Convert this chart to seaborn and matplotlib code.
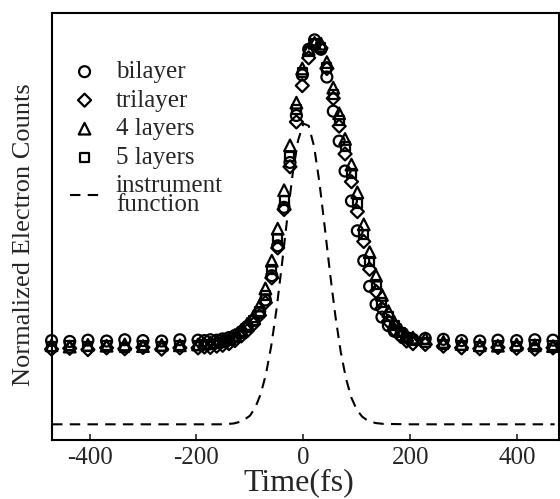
import numpy as np
import pandas as pd
import matplotlib
matplotlib.use("Agg")
import matplotlib.pyplot as plt
import seaborn as sns

# time delays (fs): sparse wings, dense core
t_left = [-471, -437, -403, -368, -334, -300, -265, -231]
t_core = [-197, -185, -174, -162, -151, -139, -128, -116, -105, -93, -82, -71,
          -59, -48, -36, -25, -13, -2, 10, 21, 33, 44, 56, 67, 78, 90, 101,
          113, 124, 136, 147, 159, 170, 182, 193, 205]
t_right = [228, 262, 296, 330, 364, 399, 433, 467]
time = t_left + t_core + t_right

# normalized electron counts
bilayer = [0.233, 0.231, 0.234, 0.232, 0.235, 0.233, 0.232, 0.235,
           0.234, 0.233, 0.235, 0.234, 0.237, 0.240, 0.245, 0.254, 0.266, 0.280, 0.298, 0.328,
           0.385, 0.455, 0.545, 0.650, 0.760, 0.855, 0.915, 0.937, 0.915, 0.850, 0.770, 0.700,
           0.630, 0.560, 0.490, 0.420, 0.360, 0.318, 0.288, 0.268, 0.255, 0.246, 0.240, 0.236,
           0.238, 0.236, 0.233, 0.232, 0.234, 0.233, 0.235, 0.234]
trilayer = [0.213, 0.215, 0.212, 0.216, 0.214, 0.217, 0.213, 0.216,
            0.216, 0.218, 0.217, 0.220, 0.222, 0.226, 0.233, 0.244, 0.256, 0.272, 0.292, 0.322,
            0.380, 0.450, 0.540, 0.640, 0.745, 0.830, 0.895, 0.925, 0.918, 0.870, 0.800, 0.735,
            0.670, 0.605, 0.535, 0.465, 0.400, 0.348, 0.308, 0.278, 0.258, 0.243, 0.232, 0.226,
            0.224, 0.220, 0.216, 0.214, 0.217, 0.215, 0.213, 0.216]
layers4 = [0.222, 0.219, 0.223, 0.221, 0.224, 0.220, 0.223, 0.222,
           0.224, 0.226, 0.228, 0.230, 0.233, 0.238, 0.246, 0.258, 0.272, 0.290, 0.315, 0.355,
           0.420, 0.495, 0.585, 0.690, 0.790, 0.870, 0.915, 0.930, 0.928, 0.885, 0.825, 0.765,
           0.705, 0.645, 0.580, 0.505, 0.440, 0.385, 0.340, 0.302, 0.276, 0.258, 0.246, 0.240,
           0.238, 0.230, 0.225, 0.222, 0.221, 0.224, 0.222, 0.220]
layers5 = [0.220, 0.222, 0.219, 0.221, 0.218, 0.222, 0.220, 0.221,
           0.221, 0.223, 0.224, 0.226, 0.229, 0.233, 0.240, 0.250, 0.263, 0.280, 0.302, 0.338,
           0.400, 0.472, 0.560, 0.665, 0.775, 0.860, 0.910, 0.928, 0.920, 0.872, 0.810, 0.748,
           0.688, 0.625, 0.555, 0.482, 0.418, 0.365, 0.322, 0.290, 0.268, 0.252, 0.240, 0.234,
           0.228, 0.224, 0.221, 0.219, 0.222, 0.220, 0.223, 0.221]

# instrument function (dashed)
t_instr = [-470, -200, -150, -130, -115, -100, -90, -80, -70, -60, -50, -40, -30,
           -20, -10, 0, 10, 20, 30, 40, 50, 60, 70, 80, 90, 100, 110, 120, 135,
           150, 200, 470]
instr = [0.037, 0.037, 0.037, 0.039, 0.044, 0.057, 0.076, 0.107, 0.154, 0.221,
         0.308, 0.412, 0.521, 0.623, 0.701, 0.741, 0.736, 0.688, 0.604, 0.499,
         0.390, 0.290, 0.206, 0.143, 0.099, 0.071, 0.055, 0.046, 0.040, 0.038,
         0.037, 0.037]

series = {"bilayer": (bilayer, "o", 62),
          "trilayer": (trilayer, "D", 44),
          "4 layers": (layers4, "^", 70),
          "5 layers": (layers5, "s", 42)}

sns.set_style("ticks")
plt.rcParams["font.family"] = ["Liberation Serif", "DejaVu Serif"]
plt.rcParams["axes.unicode_minus"] = False

fig = plt.figure(figsize=(5.6, 4.99), dpi=100)
ax = fig.add_axes([0.093, 0.118, 0.905, 0.856])

for name, (vals, mk, size) in series.items():
    df = pd.DataFrame({"time": time, "counts": vals})
    sns.scatterplot(data=df, x="time", y="counts", marker=mk, s=size,
                    facecolor="none", edgecolor="black", linewidth=1.6,
                    label=name, ax=ax, clip_on=False, zorder=3)

sns.lineplot(x=t_instr, y=instr, color="black", lw=1.5,
             linestyle=(0, (5, 3.5)), label="instrument\nfunction", ax=ax)

ax.set_xlim(-470, 478)
ax.set_ylim(0, 1)
ax.set_xticks([-400, -200, 0, 200, 400])
ax.set_yticks([])
ax.tick_params(axis="x", direction="in", length=4, width=1.2, labelsize=18, pad=5)
for sp in ax.spines.values():
    sp.set_linewidth(1.5)
    sp.set_color("black")
ax.set_xlabel("Time(fs)", fontsize=23)
ax.xaxis.set_label_coords(0.487, -0.066)
ax.set_ylabel("Normalized Electron Counts", fontsize=19)
ax.yaxis.set_label_coords(-0.033, 0.48)

leg = ax.legend(loc="upper left", bbox_to_anchor=(-0.005, 0.935), frameon=False,
                fontsize=18, labelspacing=0.24, handlelength=1.2,
                handletextpad=0.65, borderaxespad=0.4)
for txt in leg.get_texts():
    txt.set_linespacing(0.85)

fig.savefig("out.png", dpi=100)
